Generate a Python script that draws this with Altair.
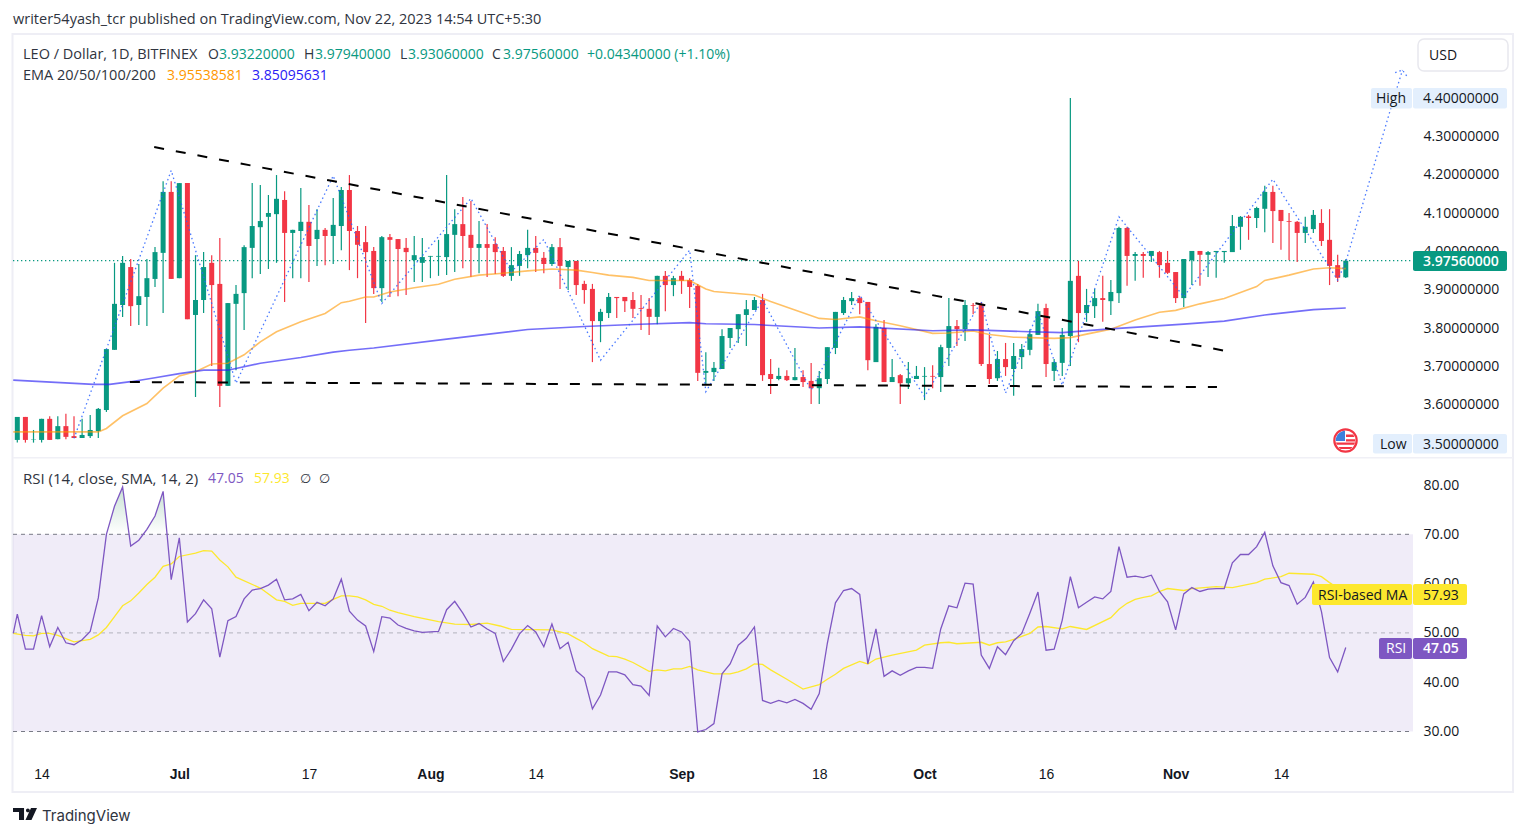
import altair as alt
import pandas as pd

# ---------- candles (daily, LEO/USD) ----------
opens = [3.508,3.568,3.509,3.508,3.563,3.510,3.544,3.518,3.513,3.518,3.531,3.586,3.743,3.860,3.959,3.860,3.881,3.928,3.996,4.155,3.930,4.178,3.834,3.873,3.970,3.915,3.649,3.863,3.891,4.009,4.063,4.090,4.097,4.134,4.048,4.053,4.077,4.032,4.056,4.040,4.066,4.160,
         4.053,4.024,4.001,3.904,4.037,4.032,4.009,3.977,3.970,3.986,3.986,3.985,4.043,4.071,4.043,4.009,4.019,4.019,4.001,3.936,3.962,3.990,4.009,3.983,3.967,4.011,3.959,3.975,3.915,3.902,3.818,3.839,3.881,3.881,3.873,3.852,3.850,3.829,3.936,3.912,3.936,3.925,3.910,
         3.683,3.685,3.693,3.774,3.797,3.834,3.847,3.873,3.680,3.667,3.675,3.664,3.672,3.662,3.643,3.667,3.748,3.839,3.870,3.878,3.868,3.711,3.800,3.659,3.677,3.656,3.667,3.673,3.675,3.672,3.748,3.805,3.797,3.860,3.863,3.706,3.669,3.719,3.693,3.724,3.743,3.782,3.852,3.688,
         3.709,3.779,3.936,3.839,3.857,3.878,3.870,3.891,4.061,3.988,3.993,3.988,3.998,3.970,3.946,3.878,3.977,4.001,3.991,3.998,3.998,3.998,4.064,4.091,4.087,4.111,4.155,4.108,4.079,4.077,4.048,4.058,4.074,4.030,3.964,3.9322]
highs = [3.568,3.568,3.534,3.563,3.570,3.570,3.576,3.570,3.563,3.573,3.591,3.745,3.970,3.988,3.980,3.967,3.980,4.011,4.183,4.183,4.178,4.178,3.990,3.998,3.990,4.035,3.865,3.912,4.016,4.178,4.173,4.147,4.199,4.157,4.056,4.165,4.121,4.110,4.061,4.139,4.168,4.199,
         4.066,4.066,4.011,4.040,4.045,4.032,4.035,4.040,4.035,3.988,4.030,4.199,4.110,4.142,4.131,4.079,4.071,4.037,4.011,4.011,4.001,4.056,4.040,3.998,4.019,4.035,3.975,3.975,3.923,3.915,3.850,3.891,3.881,3.881,3.894,3.886,3.878,3.936,3.949,3.936,3.949,3.930,3.915,
         3.737,3.711,3.797,3.800,3.836,3.873,3.881,3.889,3.719,3.696,3.690,3.748,3.690,3.709,3.688,3.750,3.842,3.881,3.894,3.883,3.868,3.810,3.821,3.719,3.680,3.711,3.701,3.698,3.703,3.756,3.878,3.821,3.873,3.865,3.868,3.782,3.740,3.761,3.761,3.758,3.797,3.863,3.863,3.719,
         3.800,4.400,3.975,3.902,3.902,3.936,3.925,4.064,4.064,3.998,3.998,4.001,4.001,4.001,3.946,3.980,4.001,4.001,4.001,4.001,4.001,4.095,4.092,4.095,4.116,4.171,4.171,4.108,4.100,4.079,4.090,4.108,4.110,4.110,3.991,3.9794]
lows = [3.501,3.501,3.501,3.501,3.508,3.510,3.510,3.513,3.513,3.513,3.513,3.581,3.743,3.829,3.805,3.808,3.805,3.907,3.839,3.928,3.930,3.823,3.620,3.839,3.701,3.594,3.649,3.690,3.795,3.930,3.941,3.954,3.970,3.868,3.930,3.930,3.920,3.962,3.964,3.967,4.003,3.951,
        3.930,3.813,3.889,3.868,3.881,3.883,3.886,3.920,3.920,3.930,3.936,3.938,3.946,3.956,3.933,3.943,3.933,3.941,3.933,3.923,3.936,3.956,3.946,3.943,3.962,3.902,3.899,3.886,3.863,3.711,3.763,3.826,3.826,3.842,3.826,3.795,3.782,3.810,3.844,3.883,3.889,3.852,3.662,
        3.651,3.662,3.693,3.748,3.761,3.753,3.847,3.662,3.628,3.664,3.662,3.664,3.646,3.602,3.602,3.654,3.732,3.834,3.860,3.836,3.690,3.711,3.659,3.659,3.602,3.641,3.667,3.612,3.643,3.633,3.701,3.753,3.766,3.836,3.701,3.654,3.662,3.675,3.623,3.693,3.729,3.782,3.672,3.662,
        3.675,3.701,3.763,3.816,3.826,3.816,3.834,3.865,3.910,3.923,3.931,3.972,3.931,3.941,3.865,3.855,3.912,3.910,3.933,3.931,3.970,3.998,4.004,4.030,4.061,4.050,4.022,4.004,3.977,3.972,4.022,4.048,4.014,3.912,3.920,3.9306]
closes = [3.568,3.508,3.510,3.563,3.508,3.544,3.516,3.513,3.521,3.534,3.589,3.745,3.863,3.970,3.857,3.883,3.930,3.998,4.155,3.928,4.178,3.823,3.873,3.959,3.912,3.649,3.865,3.889,4.011,4.066,4.079,4.100,4.137,4.048,4.056,4.077,4.014,4.056,4.040,4.069,4.160,4.053,
          4.017,3.998,3.904,4.037,4.030,4.006,3.998,3.990,3.985,3.988,3.988,4.045,4.071,4.040,4.009,4.019,4.009,3.998,3.936,3.964,3.993,4.009,3.996,3.967,4.011,3.962,3.975,3.912,3.899,3.818,3.842,3.881,3.878,3.870,3.850,3.850,3.829,3.936,3.912,3.930,3.923,3.907,3.683,
          3.688,3.696,3.779,3.800,3.836,3.849,3.873,3.677,3.667,3.675,3.664,3.672,3.659,3.643,3.669,3.750,3.842,3.873,3.878,3.865,3.716,3.803,3.659,3.672,3.656,3.669,3.675,3.675,3.673,3.750,3.805,3.797,3.860,3.858,3.706,3.667,3.719,3.698,3.727,3.745,3.784,3.844,3.706,3.711,
          3.782,3.923,3.839,3.860,3.878,3.873,3.894,4.061,3.988,3.993,3.988,4.001,3.964,3.944,3.878,3.980,4.001,3.991,3.998,4.001,4.001,4.066,4.090,4.087,4.113,4.155,4.105,4.079,4.077,4.048,4.064,4.095,4.027,3.962,3.931,3.9756]

# ---------- moving averages ----------
ema50_i = [-0.5,10,11,13,16,18,20,22,24,26,28,30,32,35,38,40,41,43,44,46,49,52,54,57,60,63,66,69,71,73,76,78,83,85,86,91,93,96,99,101,104,106,109,113,115,118,120,123,125,128,130,132,135,138,141,143,146,149,153,154,157,160,162,164]
ema50_v = [3.529,3.529,3.538,3.571,3.603,3.643,3.675,3.686,3.706,3.708,3.730,3.764,3.790,3.816,3.838,3.866,3.870,3.881,3.881,3.894,3.905,3.914,3.927,3.938,3.943,3.949,3.954,3.951,3.945,3.938,3.932,3.924,3.924,3.902,3.895,3.886,3.869,3.847,3.825,3.822,3.829,3.819,3.806,3.786,3.787,3.792,3.783,3.776,3.775,3.773,3.775,3.784,3.797,3.821,3.841,3.846,3.863,3.877,3.908,3.924,3.938,3.954,3.957,3.955]
ema200_i = [-0.5,9.4,11.4,14,17,20,23,26,30,35,39,41,44,53,63,70,76,83,85,91,99,104,113,118,124,129,134.5,144,149,154,160,164]
ema200_v = [3.664,3.653,3.653,3.660,3.670,3.681,3.690,3.690,3.708,3.723,3.737,3.742,3.748,3.771,3.796,3.804,3.809,3.814,3.811,3.809,3.800,3.803,3.793,3.795,3.791,3.788,3.797,3.810,3.818,3.834,3.848,3.852]

# ---------- drawn lines ----------
zig_i = [7,19,27,39,45,56,61,65,72,83,85,92,98,104,112,119,122,126,129,136,144,155,163,164,169.5,171]
zig_v = [3.512,4.211,3.656,4.197,3.864,4.138,3.947,4.031,3.716,4.003,3.634,3.873,3.638,3.886,3.621,3.869,3.630,3.842,3.651,4.090,3.882,4.188,3.925,3.972,4.369,4.473]
arrow_i = [170.1,171,171.6]
arrow_v = [4.466,4.473,4.455]
upper_i = [16.9,149.2]
upper_v = [4.272,3.740]
lower_i = [13.9,148.1]
lower_v = [3.659,3.646]
last_close = 3.9756

# ---------- RSI ----------
rsi_i0 = -0.5
rsi = [53.8,46.7,46.7,53.5,47.2,51.1,48.0,47.6,48.6,50.3,57.1,70.0,75.7,79.6,67.6,68.8,71.0,73.7,78.7,60.8,69.3,52.2,53.9,56.7,54.9,45.1,52.5,53.3,56.9,58.7,59.0,59.7,60.9,56.7,56.9,57.8,54.5,56.2,55.5,56.9,60.9,54.4,
       52.6,51.4,46.2,53.3,53.0,51.6,50.9,50.4,50.1,50.2,50.3,54.7,56.4,54.0,51.2,51.9,50.8,49.9,44.2,46.7,49.8,51.5,50.2,47.2,51.8,46.8,48.1,42.3,40.9,34.6,37.4,42.1,42.1,41.5,39.5,39.2,37.3,51.4,49.2,50.9,50.2,48.3,
       29.9,30.4,31.6,41.7,43.7,47.5,48.9,51.2,36.3,35.7,36.3,35.8,36.5,35.7,34.5,37.7,47.9,56.1,58.6,59.0,57.8,43.7,50.8,41.2,42.3,41.4,42.3,43.0,43.0,42.8,50.8,55.5,55.1,60.1,59.9,45.5,42.8,47.2,
       45.6,48.4,49.9,54.0,58.3,46.5,46.7,52.6,61.4,55.1,56.2,57.3,56.9,58.4,67.5,61.3,61.5,61.2,61.7,58.4,56.3,50.6,57.9,59.2,58.4,58.9,59.0,59.0,64.2,65.9,65.9,67.5,70.4,63.6,60.2,59.6,55.8,57.2,60.3,54.3,45.0,42.1,47.05]
ma_i = [-0.5,1,2,3,4,5,7,9,10,11,12,13,14,15,16,17,18,19,20,22,23,24,25,26,27,30,32,33,34,35,38,39,40,41,42,43,44,45,46,47,49,52,54,56,58,59.6,61,66,68,69,70,71,73,74,75,76,78,79,80,81,82,83,84,86,88,89,90,91,92,93,95,97,99,100,101,102,103,104,105,106,108,111,112,114,115,116,119,120,121,122,123,125,126,127,129,130,132,135,136,137,138,139,140,141,142,144,145,148,150,153,154,156,157,160,161,162,164]
ma_v = [49.9,49.5,49.4,49.9,49.9,49.5,48.2,48.7,49.6,51.1,53.3,55.5,56.5,58.1,59.8,61.3,63.5,64.0,65.5,66.2,66.7,66.6,64.8,63.4,61.3,59.1,56.7,56.4,55.6,56.0,56.0,56.8,57.5,57.5,57.3,56.7,55.8,55.4,54.6,54.1,53.3,52.3,51.8,51.7,52.0,51.4,50.7,50.6,49.8,48.9,48.0,46.8,45.3,45.2,44.7,44.0,42.2,42.5,42.3,42.7,42.7,43.2,42.5,41.7,41.7,42.1,42.7,43.7,43.6,42.5,40.6,38.6,39.5,40.6,41.6,42.8,43.5,44.2,43.7,44.7,45.5,46.5,47.5,48.0,48.1,47.8,48.1,47.5,48.0,48.2,48.7,49.9,51.2,51.3,50.8,51.3,50.7,53.1,54.8,56.0,56.8,57.2,57.5,58.4,59.0,58.6,59.0,59.4,59.2,60.2,60.9,61.4,62.1,61.9,61.4,60.2,57.93]
ob_group = [1,1,1,1,2,2,2,2,2]
ob_i = [11,12,13,13.8,15.55,16,17,18,18.49]
ob_v = [70.0,75.7,79.6,70.0,70.0,71.0,73.7,78.7,70.0]

# ---------- axes ----------
price_ticks = [3.5,3.6,3.7,3.8,3.9,4.0,4.1,4.2,4.3,4.4]
rsi_ticks = [30,40,50,60,70,80]
date_idx = [3,20,36,51,64,82,99,112,127,143,156]
date_lab = ["14","Jul","17","Aug","14","Sep","18","Oct","16","Nov","14"]
month_idx = [20,51,82,112,143]

GREEN, RED = "#089981", "#F23645"
INK = "#131722"
FONT = "Open Sans"
W, H = 1400, 752

x_scale = alt.Scale(domain=[-0.531, 172.3], nice=False, zero=False, padding=0)
p_scale = alt.Scale(domain=[3.5, 4.4], range=[435, 90], nice=False, zero=False)
r_scale = alt.Scale(domain=[30, 80], range=[723.5, 477], nice=False, zero=False)

x_axis = alt.Axis(
    values=date_idx, title=None, domain=False, ticks=False, grid=False, labelFont="Liberation Sans",
    labelFontSize=14, labelColor=INK, labelPadding=7, labelOverlap=False,
    labelExpr="%s[indexof(%s,datum.value)]" % (date_lab, date_idx),
    labelFontWeight={"condition": {"test": "indexof(%s,datum.value)>=0" % month_idx, "value": "bold"}, "value": "normal"},
)
def y_axis(vals, fmt):
    return alt.Axis(values=vals, format=fmt, orient="right", title=None, domain=False, ticks=False, grid=False,
                    labelFont=FONT, labelFontSize=14, labelColor=INK, labelPadding=10, labelAlign="left", labelOverlap=False)

def X():
    return alt.X("i:Q", scale=x_scale, axis=x_axis)
def PY(f="v:Q", axis=None):
    return alt.Y(f, scale=p_scale, axis=axis)
def RY(f="v:Q", axis=None):
    return alt.Y(f, scale=r_scale, axis=axis)

def df_line(i, v):
    return pd.DataFrame({"i": i, "v": v})

def rect(x1, x2, y1, y2, fill, radius=2, **kw):
    return alt.Chart(pd.DataFrame({"k": [0]})).mark_rect(color=fill, cornerRadius=radius, **kw).encode(
        x=alt.value(x1 - 13), x2=alt.value(x2 - 13), y=alt.value(y1 - 8), y2=alt.value(y2 - 8))

def label(text, x, y, color=INK, size=14, weight="normal", font=FONT, align="left"):
    return alt.Chart(pd.DataFrame({"t": [text]})).mark_text(
        align=align, baseline="middle", color=color, fontSize=size, font=font, fontWeight=weight
    ).encode(x=alt.value(x - 13), y=alt.value(y - 7), text="t:N")

def glyph(path, size, x, y, color):
    return alt.Chart(pd.DataFrame({"k": [0]})).mark_point(shape=path, size=size, filled=True, color=color, opacity=1).encode(
        x=alt.value(x - 13), y=alt.value(y - 8))

candles = pd.DataFrame({"i": range(len(opens)), "o": opens, "h": highs, "l": lows, "c": closes})
candles["col"] = [GREEN if c >= o else RED for o, c in zip(opens, closes)]
col = alt.Color("col:N", scale=None)

rsi_df = df_line(list(range(len(rsi))), rsi)
rsi_df = pd.concat([df_line([rsi_i0], [49.9]), rsi_df])

layers = []
# frame + divider
layers.append(alt.Chart(pd.DataFrame({"k": [0]})).mark_rect(fillOpacity=0, stroke="#eeeef5", strokeWidth=2).encode(
    x=alt.value(12.5 - 13), x2=alt.value(1513 - 13), y=alt.value(34 - 8), y2=alt.value(792 - 8)))
layers.append(rect(13, 1513, 457, 458.5, "#f0f0f6", radius=0))

# axes carriers
layers.append(alt.Chart(df_line([0], [last_close])).mark_rule(color=GREEN, strokeDash=[1.3, 2.7], strokeWidth=1.3).encode(
    x=alt.value(0), x2=alt.value(W), y=PY(axis=y_axis(price_ticks, ".8f"))))
# RSI band and levels
band = pd.DataFrame({"a": [30], "b": [70]})
layers.append(alt.Chart(band).mark_rect(color="#7E57C2", opacity=0.115).encode(
    x=alt.value(0), x2=alt.value(W), y=RY("a:Q", axis=y_axis(rsi_ticks, ".2f")), y2="b:Q"))
for lvl, op in [(70, 1), (50, 0.5), (30, 1)]:
    layers.append(alt.Chart(pd.DataFrame({"v": [lvl]})).mark_rule(color="#787B86", strokeDash=[4, 4], strokeWidth=1, opacity=op).encode(
        x=alt.value(0), x2=alt.value(W), y=RY()))

# candles
layers.append(alt.Chart(candles).mark_rule(strokeWidth=1.2).encode(x=X(), y=PY("h:Q"), y2="l:Q", color=col))
layers.append(alt.Chart(candles).mark_bar(size=5).encode(x=X(), y=PY("o:Q"), y2="c:Q", color=col))

# EMA
layers.append(alt.Chart(df_line(ema50_i, ema50_v)).mark_line(color="#FF9800", opacity=0.6, strokeWidth=1.6).encode(x=X(), y=PY()))
layers.append(alt.Chart(df_line(ema200_i, ema200_v)).mark_line(color="#2a20f5", opacity=0.65, strokeWidth=1.6).encode(x=X(), y=PY()))

# drawings
for a, b in [(zig_i, zig_v), (arrow_i, arrow_v)]:
    layers.append(alt.Chart(df_line(a, b)).mark_line(color="#2962FF", strokeDash=[1.5, 3], strokeWidth=1.3, opacity=0.85).encode(x=X(), y=PY()))
for a, b in [(upper_i, upper_v), (lower_i, lower_v)]:
    layers.append(alt.Chart(df_line(a, b)).mark_line(color="#000000", strokeDash=[10, 12], strokeWidth=2).encode(x=X(), y=PY()))

# RSI lines
ob = pd.DataFrame({"i": ob_i, "v": ob_v, "b": [70] * len(ob_i), "g": ob_group})
layers.append(alt.Chart(ob).mark_area(
    color=alt.Gradient(gradient="linear", x1=1, x2=1, y1=0, y2=1,
                       stops=[alt.GradientStop(color="rgba(8,120,60,0.22)", offset=0),
                              alt.GradientStop(color="rgba(8,120,60,0)", offset=1)])
).encode(x=X(), y=RY(), y2="b:Q", detail="g:N"))
layers.append(alt.Chart(df_line(ma_i, ma_v)).mark_line(color="#FDE82E", strokeWidth=1.3).encode(x=X(), y=RY()))
layers.append(alt.Chart(rsi_df).mark_line(color="#7E57C2", strokeWidth=1.3).encode(x=X(), y=RY()))

# price tags
layers += [
    rect(1371, 1412, 88, 108.5, "#E3EFFD"), rect(1413, 1507, 88, 108.5, "#E3EFFD"),
    label("High", 1376, 98), label("4.40000000", 1423, 98),
    rect(1373, 1412, 434, 453.5, "#E3EFFD"), rect(1413, 1507, 434, 453.5, "#E3EFFD"),
    label("Low", 1380, 444), label("3.50000000", 1423, 444),
    rect(1413, 1507, 251, 271, GREEN), label("3.97560000", 1423, 261, "#ffffff", weight=600),
    rect(1312, 1412, 584, 605, "#FDE82E"), rect(1413, 1467, 584, 605, "#FDE82E"),
    label("RSI-based MA", 1318, 595), label("57.93", 1423, 595),
    rect(1379, 1412, 638, 659, "#7E57C2"), rect(1413, 1467, 638, 659, "#7E57C2"),
    label("RSI", 1386, 648, "#ffffff"), label("47.05", 1423, 648, "#ffffff", weight=600),
]
# currency box
layers.append(alt.Chart(pd.DataFrame({"k": [0]})).mark_rect(fill="#ffffff", stroke="#E8E8EE", strokeWidth=1.5, cornerRadius=6).encode(
    x=alt.value(1418 - 13), x2=alt.value(1508 - 13), y=alt.value(39 - 8), y2=alt.value(71 - 8)))
layers.append(label("USD", 1429, 55))

# header texts
SOFT = "#2f3440"
TXT = 14.5
layers += [
    label("writer54yash_tcr published on TradingView.com, Nov 22, 2023 14:54 UTC+5:30", 13, 19, SOFT, size=TXT),
    label("LEO / Dollar, 1D, BITFINEX", 23, 54, SOFT, size=TXT),
    label("O", 208, 54, SOFT), label("3.93220000", 219, 54, GREEN),
    label("H", 304, 54, SOFT), label("3.97940000", 315, 54, GREEN),
    label("L", 400, 54, SOFT), label("3.93060000", 408, 54, GREEN),
    label("C", 492, 54, SOFT), label("3.97560000", 503, 54, GREEN),
    label("+0.04340000 (+1.10%)", 587, 54, GREEN),
    label("EMA 20/50/100/200", 23, 75, SOFT, size=TXT),
    label("3.95538581", 167, 75, "#FF9800"), label("3.85095631", 252, 75, "#2a20f5"),
    label("RSI (14, close, SMA, 14, 2)", 23, 478, SOFT, size=15),
    label("47.05", 208, 478, "#7E57C2"), label("57.93", 254, 478, "#FDE82E"),
    label("\u2205", 300, 478, SOFT, font="DejaVu Sans", size=13), label("\u2205", 319, 478, SOFT, font="DejaVu Sans", size=13),
    label("TradingView", 42, 815, "#2f3440", size=15, font="Inter"),
]
# logo
LOGO = ("M-.5 -.25H-.04V.25H-.25V-.08H-.5Z"
        "M.25 -.25H.5L.27 .25H.02Z"
        "M.04 -.15A.08 .08 0 1 0 .2 -.15A.08 .08 0 1 0 .04 -.15Z")
layers.append(glyph(LOGO, 2304, 25, 814, "#131722"))
# flag badge
layers.append(alt.Chart(pd.DataFrame({"k": [0]})).mark_point(shape="circle", size=500, filled=True, fill="#ffffff", stroke="#F23645", strokeWidth=2.2, opacity=1).encode(
    x=alt.value(1345.5 - 13), y=alt.value(440.5 - 8)))
STRIPES = ("M.05 -.62L.78 -.62L.93 -.37L.05 -.37Z"
           "M.05 -.14L.99 -.14L1 .1L.05 .1Z"
           "M-.98 .2L.98 .2L.9 .44L-.9 .44Z"
           "M-.75 .66L.75 .66L.5 .86L-.5 .86Z")
CANTON = "M-1 .05A1 1 0 0 1 -.05 -1L-.05 .05Z"
layers.append(glyph(STRIPES, 380, 1345.5, 440.5, "#F23645"))
layers.append(glyph(CANTON, 380, 1345.5, 440.5, "#3D7FDB"))

chart = alt.layer(*layers).resolve_scale(y="independent").properties(
    width=W, height=H, padding={"left": 2, "top": 0, "right": 0, "bottom": 0}, background="#ffffff"
).configure_view(stroke=None)

chart.save("out.html", embed_options={"renderer": "svg", "actions": False})
